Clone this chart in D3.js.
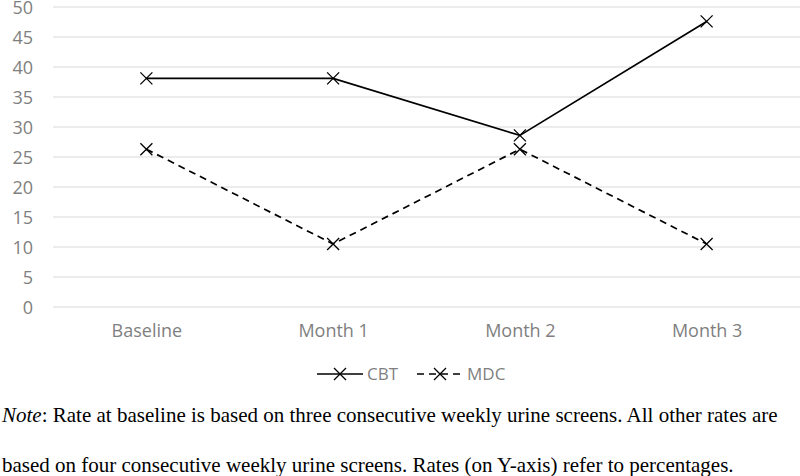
<!DOCTYPE html>
<html>
<head>
<meta charset="utf-8">
<script src="https://cdn.jsdelivr.net/npm/d3@7"></script>
<style>
  body { margin: 0; background: #fff; }
  svg { display: block; }
</style>
</head>
<body>
<svg width="800" height="476"></svg>
<script>
const categories = ["Baseline", "Month 1", "Month 2", "Month 3"];
const cbtValues = [38.1, 38.1, 28.6, 47.6];
const mdcValues = [26.3, 10.5, 26.3, 10.5];
const yTicks = [0, 5, 10, 15, 20, 25, 30, 35, 40, 45, 50];
const seriesNames = ["CBT", "MDC"];
const noteLines = [
  "Rate at baseline is based on three consecutive weekly urine screens. All other rates are",
  "based on four consecutive weekly urine screens. Rates (on Y-axis) refer to percentages."
];

const width = 800;
const height = 476;
const margin = { top: 7, right: 0, bottom: 169, left: 53 };

const x = d3.scalePoint()
  .domain(categories)
  .range([margin.left, width - margin.right])
  .padding(0.5);

const y = d3.scaleLinear()
  .domain([0, 50])
  .range([height - margin.bottom, margin.top]);

const svg = d3.select("svg");
const labelFont = "'Open Sans', sans-serif";

// gridlines
svg.append("g")
  .selectAll("line")
  .data(yTicks)
  .join("line")
  .attr("x1", margin.left)
  .attr("x2", width - margin.right)
  .attr("y1", d => y(d))
  .attr("y2", d => y(d))
  .attr("stroke", "#d9d9d9")
  .attr("stroke-width", 1);

// y axis labels (sit a hair below their gridline, as in the original)
const yAxis = svg.append("g")
  .attr("transform", `translate(${margin.left},1.2)`)
  .call(d3.axisLeft(y).tickValues(yTicks).tickSize(0).tickPadding(20));
yAxis.select(".domain").remove();
yAxis.selectAll("text")
  .attr("font-family", labelFont)
  .attr("font-size", 18)
  .attr("fill", "#7f7f7f");

// x axis labels
const xAxis = svg.append("g")
  .attr("transform", `translate(0,${y(0)})`)
  .call(d3.axisBottom(x).tickSize(0).tickPadding(17));
xAxis.select(".domain").remove();
xAxis.selectAll("text")
  .attr("font-family", labelFont)
  .attr("font-size", 18)
  .attr("fill", "#7f7f7f");

const line = d3.line()
  .x((d, i) => x(categories[i]))
  .y(d => y(d));

const dashes = ["none", "7,5"];
const allSeries = [cbtValues, mdcValues];

function drawCross(g, cx, cy, r) {
  g.append("path")
    .attr("d", `M${cx - r},${cy - r}L${cx + r},${cy + r}M${cx - r},${cy + r}L${cx + r},${cy - r}`)
    .attr("stroke", "#000")
    .attr("stroke-width", 1.3)
    .attr("fill", "none");
}

allSeries.forEach((vals, s) => {
  svg.append("path")
    .datum(vals)
    .attr("fill", "none")
    .attr("stroke", "#000")
    .attr("stroke-width", 1.7)
    .attr("stroke-dasharray", dashes[s])
    .attr("d", line);
  const mg = svg.append("g");
  vals.forEach((v, i) => drawCross(mg, x(categories[i]), y(v), 6));
});

// legend
const legendY = 374;
const legendX = [317, 417];
seriesNames.forEach((name, s) => {
  const g = svg.append("g");
  g.append("line")
    .attr("x1", legendX[s]).attr("x2", legendX[s] + 46)
    .attr("y1", legendY).attr("y2", legendY)
    .attr("stroke", "#000")
    .attr("stroke-width", 1.7)
    .attr("stroke-dasharray", dashes[s]);
  drawCross(g, legendX[s] + 23, legendY, 6);
  g.append("text")
    .attr("x", legendX[s] + 50)
    .attr("y", legendY + 6)
    .attr("font-family", labelFont)
    .attr("font-size", 17)
    .attr("fill", "#7f7f7f")
    .text(name);
});

// note
const noteFont = "'Liberation Serif', 'Times New Roman', serif";
const n1 = svg.append("text")
  .attr("x", 2)
  .attr("y", 422)
  .attr("font-family", noteFont)
  .attr("font-size", 21)
  .attr("fill", "#000");
n1.append("tspan").attr("font-style", "italic").text("Note");
n1.append("tspan").text(": " + noteLines[0]);

svg.append("text")
  .attr("x", 2)
  .attr("y", 472)
  .attr("font-family", noteFont)
  .attr("font-size", 21)
  .attr("fill", "#000")
  .text(noteLines[1]);
</script>
</body>
</html>
